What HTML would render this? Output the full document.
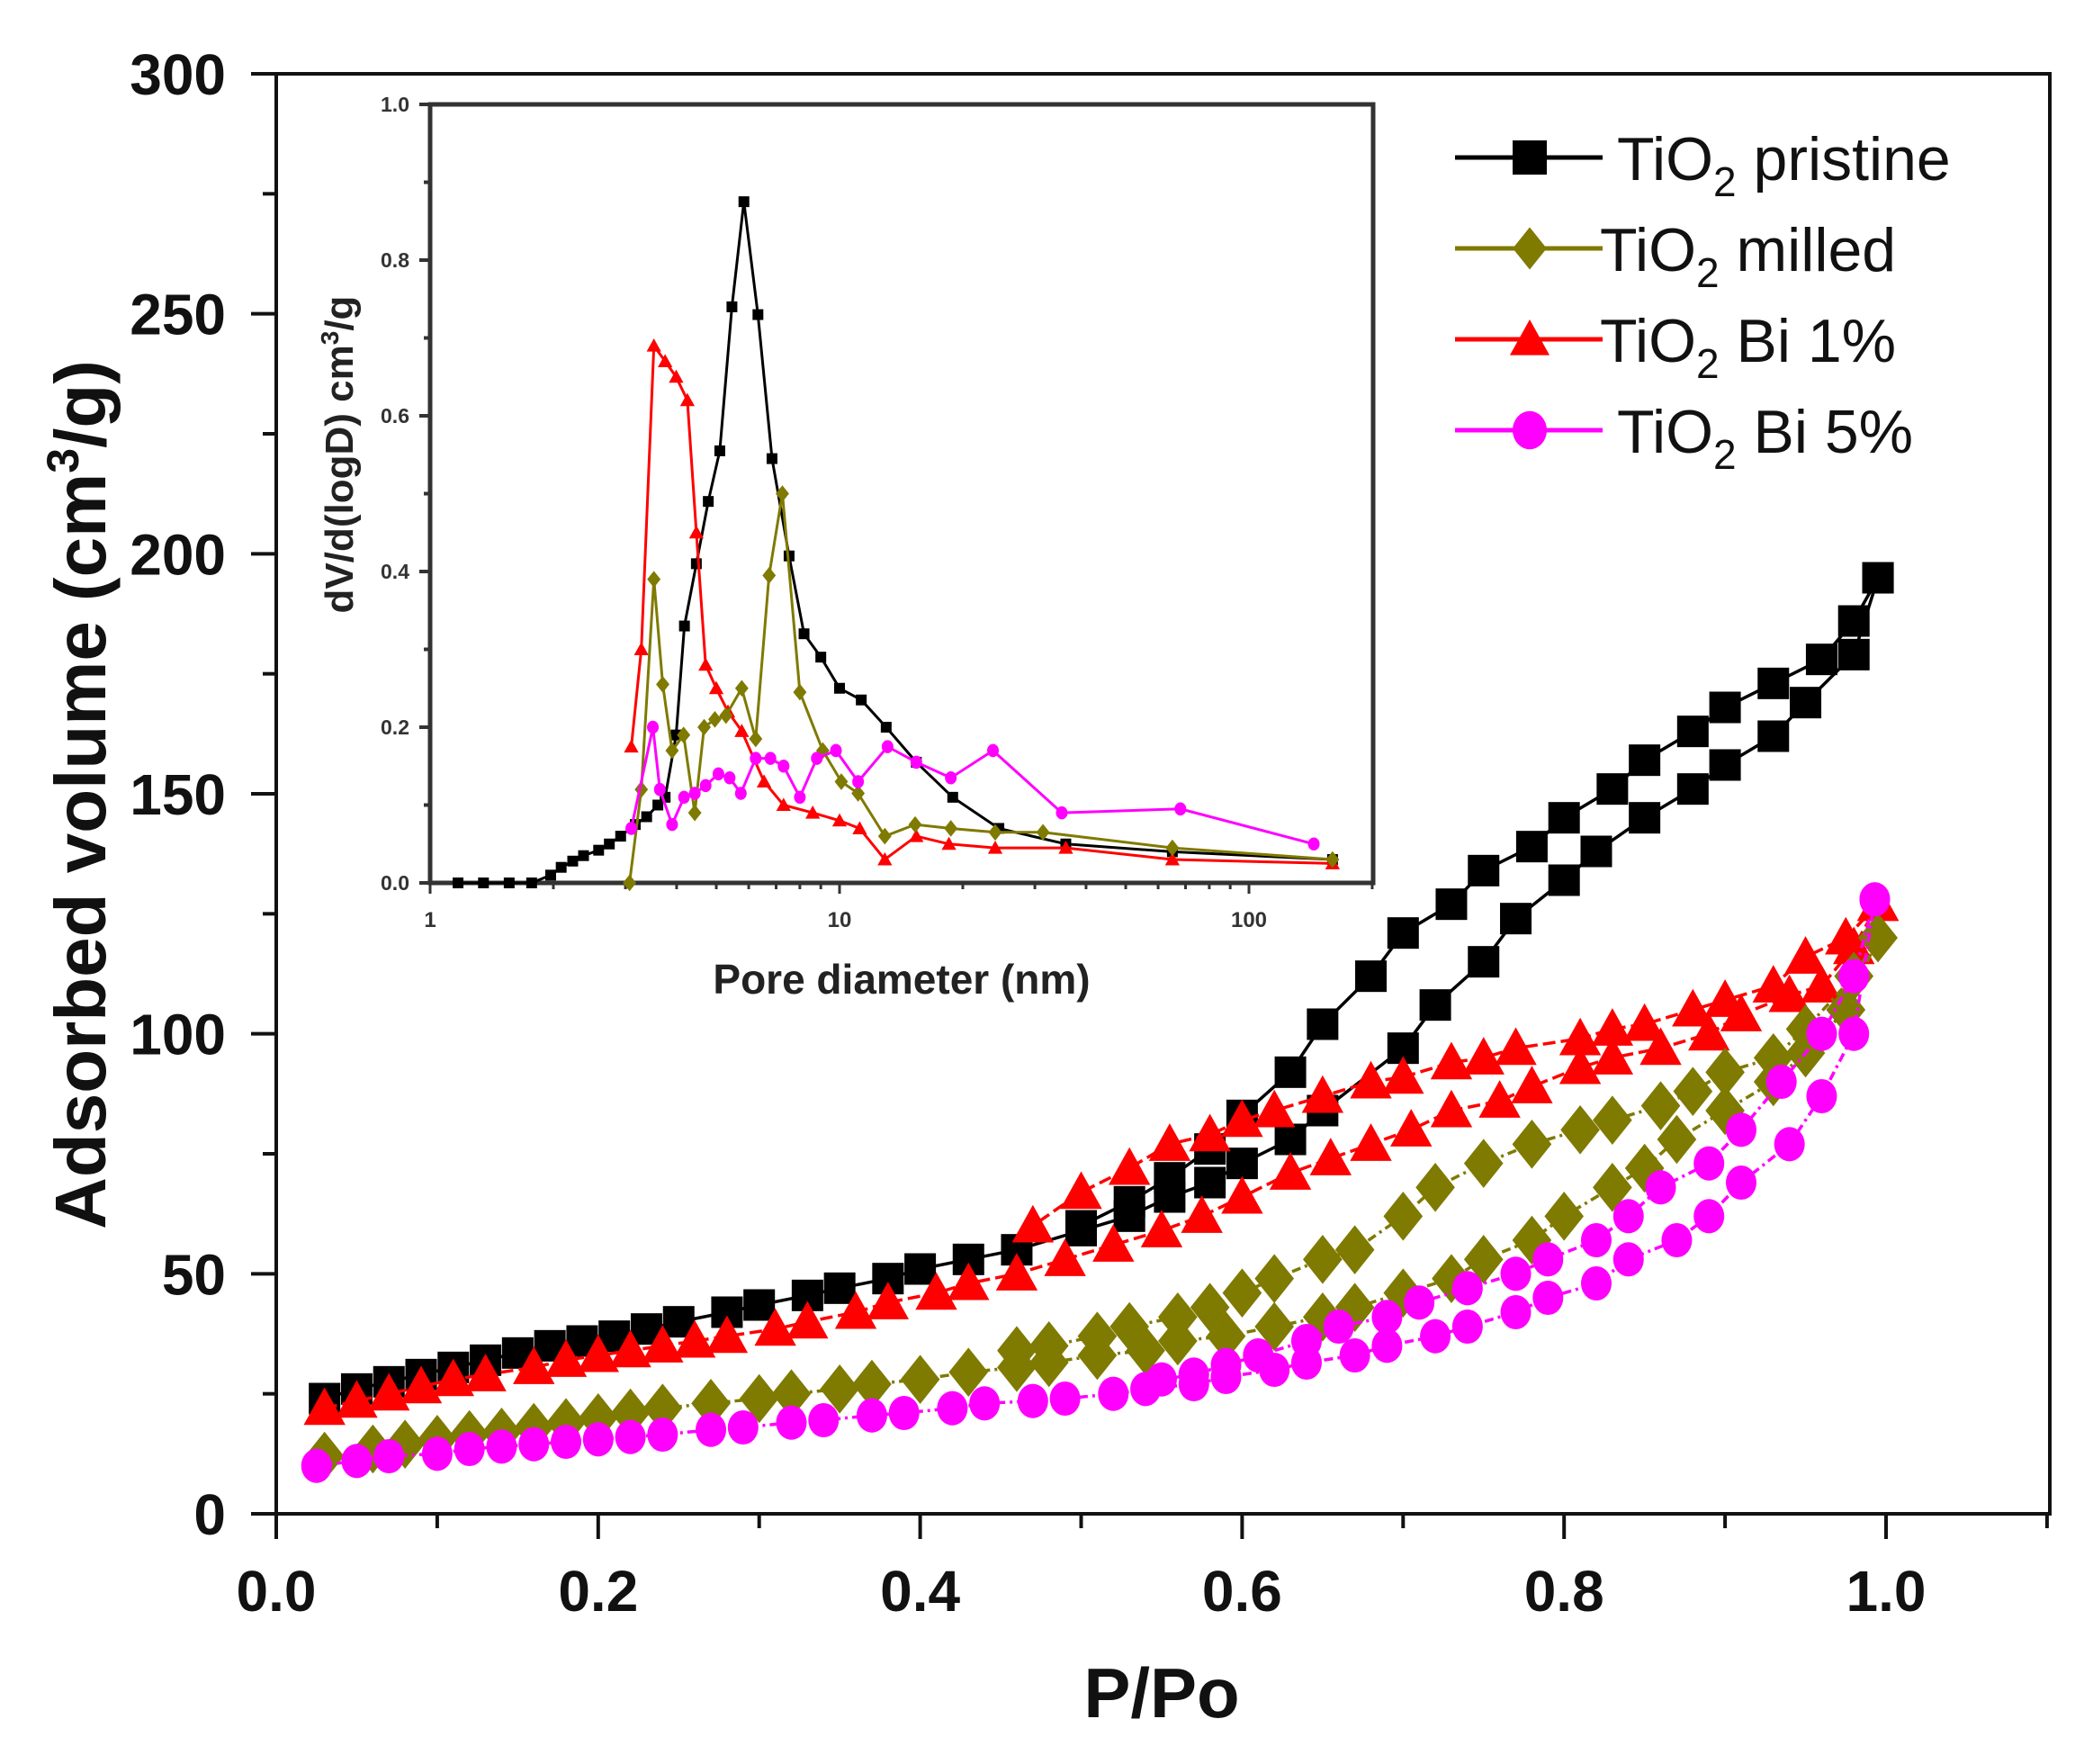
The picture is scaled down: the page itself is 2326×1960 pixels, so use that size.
<!DOCTYPE html>
<html><head><meta charset="utf-8"><style>
html,body{margin:0;padding:0;background:#fff;}
svg{display:block;font-family:"Liberation Sans",Arial,sans-serif;}
</style></head><body>
<svg id="chart" width="2326" height="1960" viewBox="0 0 2326 1960" xmlns="http://www.w3.org/2000/svg">
<rect width="2326" height="1960" fill="#fff"/>
<g id="main"></g>
<g id="inset"></g>
<g id="legend"></g>
</svg>
<script>
// ---- main chart data (P/Po, adsorbed volume) ----
const pristineAdsX=[0.03,0.05,0.07,0.09,0.11,0.13,0.15,0.17,0.19,0.21,0.23,0.25,0.28,0.30,0.33,0.35,0.38,0.40,0.43,0.46,0.50,0.53,0.555,0.58,0.60,0.63,0.65,0.70,0.72,0.75,0.77,0.80,0.82,0.85,0.88,0.90,0.93,0.95,0.98,0.995];
const pristineAdsY=[24,26,27.5,29,30.5,32,33.5,35,36,37,38.5,40,42,43.5,45.5,47,49,51,53,55,59,62,66,69,73,78,84,97,106,115,124,132,138,145,151,156,162,169,179,195];
const pristineDesX=[0.995,0.98,0.96,0.93,0.90,0.88,0.85,0.83,0.80,0.78,0.75,0.73,0.70,0.68,0.65,0.63,0.60,0.58,0.555,0.53,0.50];
const pristineDesY=[195,186,178,173,168,163,157,151,145,139,134,127,121,112,102,92,83,76,70,65,60];
const bi1AdsX=[0.03,0.05,0.07,0.09,0.11,0.13,0.16,0.18,0.20,0.22,0.24,0.26,0.28,0.31,0.33,0.36,0.38,0.41,0.43,0.46,0.49,0.52,0.55,0.575,0.60,0.63,0.655,0.68,0.705,0.73,0.76,0.78,0.81,0.83,0.86,0.89,0.91,0.94,0.96,0.98,0.995];
const bi1AdsY=[22,23.5,25,26.5,28,29,30.5,32,33,34,35,36,37,38.5,40,42,44,46,48,50,53,56,59,62,66,71,74,77,80,84,86,89,93,95,97,100,104,108,110,118,127];
const bi1DesX=[0.995,0.975,0.95,0.93,0.90,0.88,0.85,0.83,0.81,0.77,0.75,0.73,0.70,0.68,0.65,0.62,0.60,0.58,0.555,0.53,0.50,0.47];
const bi1DesY=[127,120,116,110,107,105,102,101,99,97,95,94,91,90,87,84,82,79,77,72,67,60];
const milledAdsX=[0.03,0.06,0.08,0.10,0.12,0.14,0.16,0.18,0.20,0.22,0.24,0.27,0.30,0.32,0.35,0.37,0.40,0.43,0.46,0.48,0.51,0.54,0.56,0.59,0.62,0.65,0.67,0.70,0.73,0.75,0.78,0.80,0.83,0.85,0.87,0.90,0.93,0.95,0.975,0.995];
const milledAdsY=[12,13.5,14.5,15.5,16.5,17,18,19,20,21,22,23,24,25,26,27,28,29.5,30.5,31.5,33,34,36,37,39,41,43,46,49,53,57,62,68,72,78,84,90,96,105,120];
const milledDesX=[0.995,0.98,0.95,0.93,0.90,0.88,0.86,0.83,0.81,0.78,0.75,0.72,0.70,0.67,0.65,0.62,0.60,0.58,0.56,0.53,0.51,0.48,0.46];
const milledDesY=[120,112,101,95,92,88,85,82,80,77,73,68,62,55,53,49,46,43,41,39,37,35,34];
const bi5AdsX=[0.025,0.05,0.07,0.10,0.12,0.14,0.16,0.18,0.20,0.22,0.24,0.27,0.29,0.32,0.34,0.37,0.39,0.42,0.44,0.47,0.49,0.52,0.54,0.57,0.59,0.62,0.64,0.67,0.69,0.72,0.74,0.77,0.79,0.82,0.84,0.87,0.89,0.91,0.94,0.96,0.98,0.993];
const bi5AdsY=[10,11,12,12.5,13.5,14,14.5,15,15.5,16,16.5,17.5,18,19,19.5,20.5,21,22,23,23.5,24,25,26,27,28.5,30,31.5,33,35,37,39,42,45,48,53,57,62,69,77,87,100,128];
const bi5DesX=[0.993,0.98,0.96,0.935,0.91,0.89,0.86,0.84,0.82,0.79,0.77,0.74,0.71,0.69,0.66,0.64,0.61,0.59,0.57,0.55];
const bi5DesY=[128,112,100,90,80,73,68,62,57,53,50,47,44,41,39,36,33,31,29,28];
const mainXTicks=["0.0","0.2","0.4","0.6","0.8","1.0"];
const mainYTicks=["0","50","100","150","200","250","300"];

// ---- inset data (pore diameter nm, dV/dlogD) ----
const inPristX=[1.17,1.35,1.56,1.77,1.97,2.09,2.23,2.37,2.58,2.74,2.92,3.17,3.38,3.6,3.75,3.99,4.18,4.47,4.78,5.1,5.46,5.84,6.32,6.84,7.53,8.19,9.0,10,11.3,13,15.4,18.9,24.5,35.7,65,160];
const inPristY=[0,0,0,0,0.01,0.02,0.028,0.035,0.042,0.05,0.06,0.075,0.085,0.1,0.11,0.19,0.33,0.41,0.49,0.555,0.74,0.875,0.73,0.545,0.42,0.32,0.29,0.25,0.235,0.2,0.155,0.11,0.07,0.05,0.04,0.03];
const inBi1X=[3.1,3.28,3.52,3.75,3.99,4.25,4.47,4.71,5.0,5.34,5.77,6.54,7.3,8.6,10,11.2,12.9,15.4,18.5,24,35.7,65,160];
const inBi1Y=[0.175,0.30,0.69,0.67,0.65,0.62,0.45,0.28,0.25,0.22,0.195,0.13,0.10,0.09,0.08,0.07,0.03,0.06,0.05,0.045,0.045,0.03,0.025];
const inMilledX=[3.07,3.28,3.52,3.7,3.9,4.16,4.43,4.67,4.96,5.28,5.77,6.24,6.73,7.25,8.0,9.1,10.1,11.1,12.9,15.3,18.7,24,31.4,65,160];
const inMilledY=[0,0.12,0.39,0.255,0.17,0.19,0.09,0.2,0.21,0.215,0.25,0.185,0.395,0.5,0.245,0.17,0.13,0.115,0.06,0.075,0.07,0.065,0.065,0.045,0.03];
const inBi5X=[3.1,3.5,3.64,3.9,4.17,4.43,4.71,5.06,5.39,5.74,6.24,6.78,7.3,8.0,8.8,9.8,11.1,13.1,15.4,18.7,23.7,34.9,68,144];
const inBi5Y=[0.07,0.2,0.12,0.075,0.11,0.115,0.125,0.14,0.135,0.115,0.16,0.16,0.15,0.11,0.16,0.17,0.13,0.175,0.155,0.135,0.17,0.09,0.095,0.05];
const inXTicks=["1","10","100"];
const inYTicks=["0.0","0.2","0.4","0.6","0.8","1.0"];

const NS="http://www.w3.org/2000/svg";
function mk(tag,attrs,parent){const e=document.createElementNS(NS,tag);for(const k in attrs)e.setAttribute(k,attrs[k]);parent.appendChild(e);return e;}

const L=307,R=2278,T=82,B=1682;
const xs=v=>L+v*(2096-307);
const ys=v=>B-v*(B-T)/300;
const IL=478,IR=1526,IT=116,IB=981;
const ixs=v=>IL+Math.log10(v)*455;
const iys=v=>IB-v*(IB-IT);

const main=document.getElementById('main');
const inset=document.getElementById('inset');
const leg=document.getElementById('legend');

function marker(g,type,x,y,s,color){
  let e;
  if(type==='sq'){e=mk('rect',{x:x-s/2,y:y-s/2,width:s,height:s,fill:color},g);}
  else if(type==='di'){const h=s*0.62;e=mk('polygon',{points:`${x},${y-h} ${x+h*0.8},${y} ${x},${y+h} ${x-h*0.8},${y}`,fill:color},g);}
  else if(type==='tri'){const h=s*0.58;e=mk('polygon',{points:`${x},${y-h} ${x+h},${y+h*0.8} ${x-h},${y+h*0.8}`,fill:color},g);}
  else {e=mk('ellipse',{cx:x,cy:y,rx:s*0.5,ry:s*0.56,fill:color},g);}
  return e;
}
function series(parent,X,Y,fx,fy,type,color,s,lw,dash,name){
  const g=mk('g',{},parent);
  
  
  const pts=X.map((v,i)=>fx(v).toFixed(1)+','+fy(Y[i]).toFixed(1)).join(' ');
  const pl=mk('polyline',{points:pts,fill:'none',stroke:color,'stroke-width':lw,'stroke-dasharray':dash||'none'},g);
  
  
  X.forEach((v,i)=>{const m=marker(g,type,fx(v),fy(Y[i]),s,color);
    
    });
}

const fr=mk('rect',{x:L,y:T,width:R-L,height:B-T,fill:'none',stroke:'#111','stroke-width':4},main);

for(let v=0;v<=300;v+=25){const major=v%50===0;
  const t=mk('line',{x1:L-(major?28:15),x2:L,y1:ys(v),y2:ys(v),stroke:'#111','stroke-width':4},main);
  }
mainYTicks.forEach(s=>{const t=mk('text',{x:251,y:ys(+s)+23,'text-anchor':'end','font-size':64,'font-weight':'bold',fill:'#111'},main);t.textContent=s;
  });
for(let i=0;i<=11;i++){const v=i/10;const major=i%2===0;
  const t=mk('line',{x1:xs(v),x2:xs(v),y1:B,y2:B+(major?28:16),stroke:'#111','stroke-width':4},main);
  }
mainXTicks.forEach(s=>{const t=mk('text',{x:xs(+s),y:1790,'text-anchor':'middle','font-size':64,'font-weight':'bold',fill:'#111'},main);t.textContent=s;
  });
let xt=mk('text',{x:1291,y:1908,'text-anchor':'middle','font-size':78,'font-weight':'bold',fill:'#111'},main);xt.textContent='P/Po';

let yt=mk('text',{x:0,y:0,transform:'translate(117,883) rotate(-90)','text-anchor':'middle','font-size':80,'font-weight':'bold',fill:'#111'},main);
yt.innerHTML='Adsorbed volume (cm<tspan dy="-30" font-size="50">3</tspan><tspan dy="30">/g)</tspan>';


series(main,pristineAdsX,pristineAdsY,xs,ys,'sq','#000',35,3.5,null,'pristine-adsorption');
series(main,pristineDesX,pristineDesY,xs,ys,'sq','#000',35,3.5,null,'pristine-desorption');
series(main,bi1AdsX,bi1AdsY,xs,ys,'tri','#ff0000',40,3.5,'14,6','bi1-adsorption');
series(main,bi1DesX,bi1DesY,xs,ys,'tri','#ff0000',40,3.5,'14,6','bi1-desorption');
series(main,milledAdsX,milledAdsY,xs,ys,'di','#7f7a00',44,3.5,'10,5,3,5','milled-adsorption');
series(main,milledDesX,milledDesY,xs,ys,'di','#7f7a00',44,3.5,'10,5,3,5','milled-desorption');
series(main,bi5AdsX,bi5AdsY,xs,ys,'ci','#ff00ff',34,3.5,'10,5,3,5','bi5-adsorption');
series(main,bi5DesX,bi5DesY,xs,ys,'ci','#ff00ff',34,3.5,'10,5,3,5','bi5-desorption');

const ifr=mk('rect',{x:IL,y:IT,width:IR-IL,height:IB-IT,fill:'none',stroke:'#333','stroke-width':5},inset);

for(let i=0;i<=10;i++){const v=i/10;const major=i%2===0;
  const t=mk('line',{x1:IL-(major?12:7),x2:IL,y1:iys(v),y2:iys(v),stroke:'#333','stroke-width':4},inset);
  }
inYTicks.forEach(s=>{const t=mk('text',{x:455,y:iys(+s)+8,'text-anchor':'end','font-size':23,'font-weight':'bold',fill:'#333'},inset);t.textContent=s;
  });
for(let d=1;d<=100;d*=10){for(let k=1;k<10;k++){const v=d*k;if(v>200)break;
  const t=mk('line',{x1:ixs(v),x2:ixs(v),y1:IB,y2:IB+(k===1?12:7),stroke:'#333','stroke-width':3},inset);
  }}
inXTicks.forEach(s=>{const t=mk('text',{x:ixs(+s),y:1030,'text-anchor':'middle','font-size':24,'font-weight':'bold',fill:'#333'},inset);t.textContent=s;
  });
let ixt=mk('text',{x:1002,y:1104,'text-anchor':'middle','font-size':46,'font-weight':'bold',fill:'#222'},inset);ixt.textContent='Pore diameter (nm)';

let iyt=mk('text',{x:0,y:0,transform:'translate(392,505) rotate(-90)','text-anchor':'middle','font-size':44,'font-weight':'bold',fill:'#222'},inset);
iyt.innerHTML='dV/d(logD) cm<tspan dy="-16" font-size="28">3</tspan><tspan dy="16">/g</tspan>';

series(inset,inPristX,inPristY,ixs,iys,'sq','#000',12,3,null,'inset-pristine');
series(inset,inBi1X,inBi1Y,ixs,iys,'tri','#ff0000',14,3,null,'inset-bi1');
series(inset,inMilledX,inMilledY,ixs,iys,'di','#7f7a00',15,3,null,'inset-milled');
series(inset,inBi5X,inBi5Y,ixs,iys,'ci','#ff00ff',13,3,null,'inset-bi5');

const legNames=['pristine','milled','Bi 1%','Bi 5%'];
const legColors=['#000','#7f7a00','#ff0000','#ff00ff'];
const legTypes=['sq','di','tri','ci'];
const legY=[175,276,377,478];
const legTX=[1797,1778,1778,1797];
legNames.forEach((n,i)=>{
  const g=mk('g',{},leg);
  
  
  mk('line',{x1:1617,x2:1781,y1:legY[i],y2:legY[i],stroke:legColors[i],'stroke-width':5},g);
  marker(g,legTypes[i],1700,legY[i],38,legColors[i]);
  const t=mk('text',{x:legTX[i],y:legY[i]+25,'font-size':68,fill:'#111'},g);
  t.innerHTML='TiO<tspan dy="18" font-size="46">2</tspan><tspan dy="-18"> '+n+'</tspan>';
});
</script>
</body></html>
